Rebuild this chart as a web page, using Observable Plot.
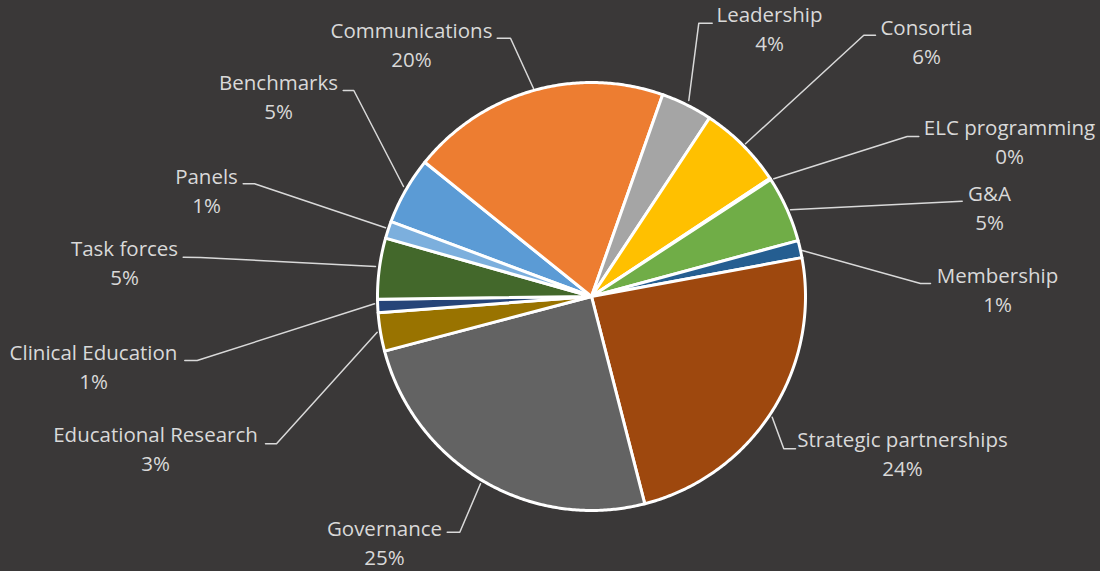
<!DOCTYPE html>
<html>
<head>
<meta charset="utf-8">
<script src="https://cdn.jsdelivr.net/npm/d3@7"></script>
<script src="https://cdn.jsdelivr.net/npm/@observablehq/plot@0.6"></script>
<style>
  html, body { margin: 0; padding: 0; background: #3a3838; }
  #chart { width: 1100px; height: 571px; }
</style>
</head>
<body>
<div id="chart"></div>
<script>
// ---- data (Excel series order, clockwise from the first slice) ----
const categories = [
  "Benchmarks", "Communications", "Leadership", "Consortia", "ELC programming",
  "G&A", "Membership", "Strategic partnerships", "Governance",
  "Educational Research", "Clinical Education", "Task forces", "Panels"
];
const shares = [5.1, 19.6, 3.9, 6.4, 0.1, 5.0, 1.3, 23.9, 24.9, 2.9, 1.0, 4.6, 1.3];
const sliceColors = [
  "#5B9BD5", "#ED7D31", "#A5A5A5", "#FFC000", "#4472C4", "#70AD47",
  "#255E91", "#9E480E", "#636363", "#997300", "#264478", "#43682B", "#7CAFDD"
];

// ---- layout (pixels) ----
const W = 1100, H = 571;
const cx = 591, cy = 296, R = 214;
const firstSliceAngle = 290.5; // degrees, clockwise from 12 o'clock
const textColor = "#d9d9d9";

// label anchors: [x center, y of name line]
const labelAnchor = {
  "Benchmarks": [278, 82.5],
  "Communications": [411, 31],
  "Leadership": [769, 15],
  "Consortia": [926, 27.5],
  "ELC programming": [1009, 128.3],
  "G&A": [989, 194],
  "Membership": [997, 276],
  "Strategic partnerships": [902, 440],
  "Governance": [384, 529],
  "Educational Research": [155, 435],
  "Clinical Education": [93, 352.5],
  "Task forces": [124, 249],
  "Panels": [206, 177]
};
const leaderPaths = {
  "Benchmarks": [[342.7, 90], [353.3, 90], [403, 186]],
  "Communications": [[496.7, 37.7], [510, 37.7], [533, 88]],
  "Leadership": [[711.7, 22.7], [698.3, 22.7], [688.3, 100]],
  "Consortia": [[875, 34.7], [863.3, 34.7], [745, 143.3]],
  "ELC programming": [[918.3, 136], [906.7, 136], [773.3, 178.3]],
  "G&A": [[961.7, 200.7], [790, 209.3]],
  "Membership": [[930, 283], [920, 283], [801.7, 250]],
  "Strategic partnerships": [[795, 448.3], [783.3, 448.3], [771.7, 416.7]],
  "Governance": [[446.7, 531.7], [459.3, 531.7], [480, 483.3]],
  "Educational Research": [[265, 443.3], [276, 443.3], [376.7, 331.7]],
  "Clinical Education": [[184.3, 360], [196.7, 360], [374, 303.3]],
  "Task forces": [[182.7, 256.7], [200, 257], [375, 266]],
  "Panels": [[242.7, 183.3], [254, 183.3], [385, 227.3]]
};

// ---- build slice polygons from the data ----
const total = d3.sum(shares);
const slicePts = [];
let acc = firstSliceAngle;
categories.forEach((name, i) => {
  const a0 = acc, a1 = acc + shares[i] / total * 360;
  acc = a1;
  slicePts.push({name, x: cx, y: cy});
  const steps = Math.max(2, Math.ceil((a1 - a0) / 0.5));
  for (let k = 0; k <= steps; k++) {
    const a = (a0 + (a1 - a0) * k / steps) * Math.PI / 180;
    slicePts.push({name, x: cx + R * Math.sin(a), y: cy - R * Math.cos(a)});
  }
  slicePts.push({name, x: cx, y: cy});
});

const labels = categories.map((name, i) => ({
  name,
  pct: Math.round(shares[i] / total * 100) + "%",
  x: labelAnchor[name][0],
  y: labelAnchor[name][1]
}));

const leaders = [];
categories.forEach(name => leaderPaths[name].forEach(([x, y]) => leaders.push({name, x, y})));

const chart = Plot.plot({
  width: W,
  height: H,
  margin: 0,
  x: {domain: [0, W], range: [0, W], axis: null},
  y: {domain: [0, H], range: [0, H], axis: null},
  color: {domain: categories, range: sliceColors},
  style: {background: "#3a3838", overflow: "visible"},
  marks: [
    Plot.line(leaders, {x: "x", y: "y", z: "name", stroke: textColor, strokeWidth: 1.5, curve: "linear"}),
    Plot.line(slicePts, {x: "x", y: "y", z: "name", fill: "name", stroke: "white", strokeWidth: 3, strokeLinejoin: "round", curve: "linear"}),
    Plot.text(labels, {x: "x", y: "y", text: "name", fill: textColor, fontSize: 20.5, fontFamily: "Open Sans", textAnchor: "middle", lineAnchor: "middle"}),
    Plot.text(labels, {x: "x", y: d => d.y + 29, text: "pct", fill: textColor, fontSize: 20.5, fontFamily: "Open Sans", textAnchor: "middle", lineAnchor: "middle"})
  ]
});
document.getElementById("chart").appendChild(chart);
</script>
</body>
</html>
